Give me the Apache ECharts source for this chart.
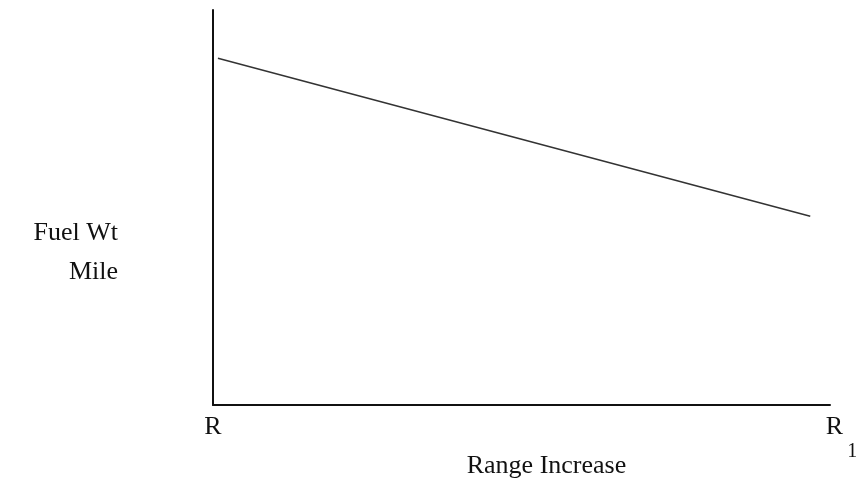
<!DOCTYPE html>
<html>
<head>
<meta charset="utf-8">
<script src="https://cdn.jsdelivr.net/npm/echarts@6/dist/echarts.min.js"></script>
<style>
  html,body{margin:0;padding:0;background:#fff;}
  #chart{width:856px;height:485px;}
</style>
</head>
<body>
<div id="chart"></div>
<script>
  // range (fraction of R..R1) and fuel weight per mile (relative)
  var rangeVals = [0.008, 0.968];
  var fuelVals = [0.878, 0.478];
  var tickLabels = ['R', 'R1'];

  var serif = 'Liberation Serif';
  var myChart = echarts.init(document.getElementById('chart'));
  myChart.setOption({
    animation: false,
    grid: {left: 213, right: 26, top: 10, bottom: 80, outerBoundsMode: 'none', containLabel: false},
    xAxis: {
      type: 'value',
      min: 0,
      max: 1,
      interval: 1,
      name: 'Range Increase',
      nameLocation: 'middle',
      nameGap: 48,
      nameMoveOverlap: false,
      nameTextStyle: {fontFamily: serif, fontSize: 26, color: '#111', padding: [0, 0, 0, 50]},
      axisLine: {lineStyle: {color: '#111', width: 2}},
      axisTick: {show: false},
      splitLine: {show: false},
      axisLabel: {
        margin: 9,
        fontFamily: serif,
        fontSize: 26,
        color: '#111',
        formatter: function (v) {
          // 第二个刻度带下标
          if (v === 1) return '{r|R}{s|1}';
          return tickLabels[0];
        },
        rich: {
          r: {fontFamily: serif, fontSize: 26, color: '#111', padding: [0, 0, 0, 23], verticalAlign: 'top'},
          s: {fontFamily: serif, fontSize: 20, color: '#111', padding: [28, 0, 0, 4], verticalAlign: 'bottom'}
        }
      }
    },
    yAxis: {
      type: 'value',
      min: 0,
      max: 1,
      name: 'Fuel Wt\nMile',
      nameLocation: 'middle',
      nameRotate: 0,
      nameGap: 95,
      nameTextStyle: {fontFamily: serif, fontSize: 26, color: '#111', align: 'right', verticalAlign: 'top', lineHeight: 39, padding: [6, 0, 0, 0]},
      axisLine: {show: true, lineStyle: {color: '#111', width: 2}},
      axisTick: {show: false},
      axisLabel: {show: false},
      splitLine: {show: false}
    },
    series: [{
      type: 'line',
      symbol: 'none',
      lineStyle: {color: '#333', width: 1.5},
      data: rangeVals.map(function (x, i) { return [x, fuelVals[i]]; })
    }]
  });
</script>
</body>
</html>
